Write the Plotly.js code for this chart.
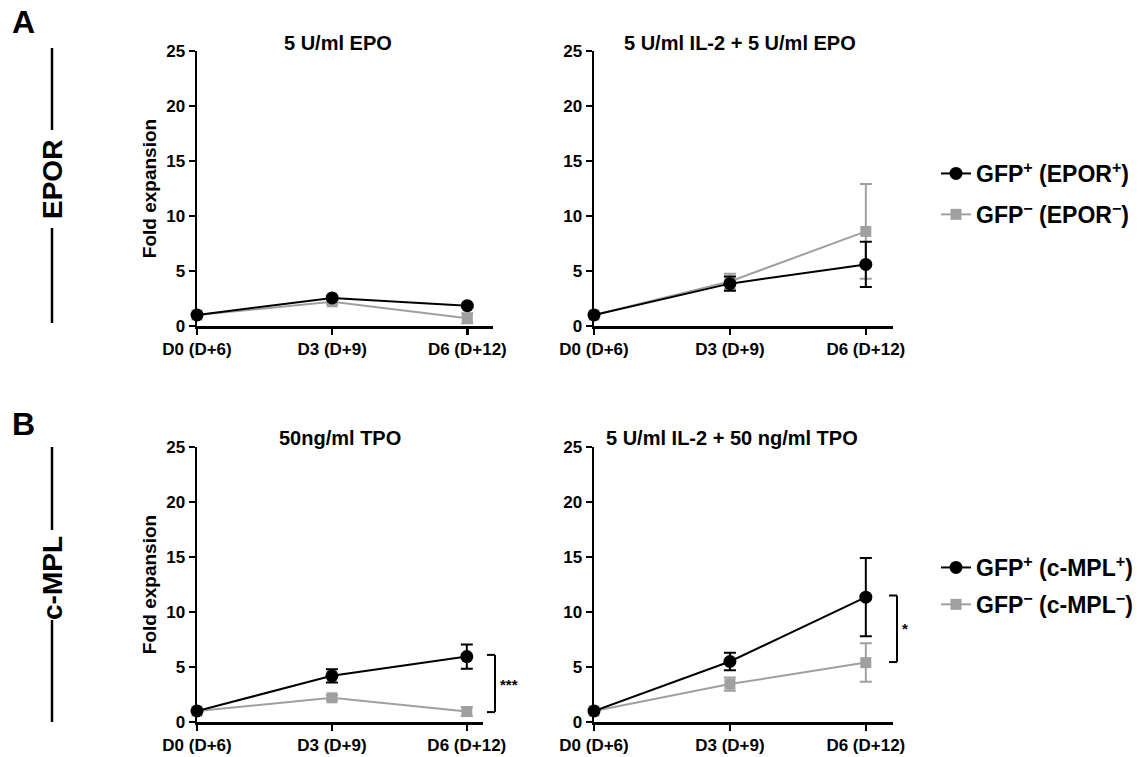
<!DOCTYPE html>
<html><head><meta charset="utf-8">
<script src="https://cdn.plot.ly/plotly-3.0.1.min.js"></script>
<style>html,body{margin:0;padding:0;background:#fff}#chart{width:1142px;height:757px}</style>
</head><body><div id="chart"></div>
<script>
// ---- data ----
const categories = ['D0 (D+6)', 'D3 (D+9)', 'D6 (D+12)'];
const panelTitles = ['5 U/ml EPO', '5 U/ml IL-2 + 5 U/ml EPO', '50ng/ml TPO', '5 U/ml IL-2 + 50 ng/ml TPO'];
const epoPos = [1.0, 2.55, 1.85];     const epoPosErr = [0.1, 0.15, 0.15];
const epoNeg = [1.0, 2.2, 0.7];       const epoNegErr = [0.1, 0.2, 0.45];
const il2EpoPos = [1.0, 3.85, 5.6];   const il2EpoPosErr = [0.1, 0.65, 2.05];
const il2EpoNeg = [1.0, 4.05, 8.6];   const il2EpoNegErr = [0.1, 0.7, 4.3];
const tpoPos = [1.0, 4.2, 5.95];      const tpoPosErr = [0.1, 0.6, 1.1];
const tpoNeg = [1.0, 2.2, 0.95];      const tpoNegErr = [0.1, 0.25, 0.4];
const il2TpoPos = [1.0, 5.5, 11.35];  const il2TpoPosErr = [0.1, 0.8, 3.55];
const il2TpoNeg = [1.0, 3.45, 5.4];   const il2TpoNegErr = [0.1, 0.6, 1.75];
const legendEpor = ['GFP<sup>+</sup> (EPOR<sup>+</sup>)', 'GFP<sup>−</sup> (EPOR<sup>−</sup>)'];
const legendMpl = ['GFP<sup>+</sup> (c-MPL<sup>+</sup>)', 'GFP<sup>−</sup> (c-MPL<sup>−</sup>)'];
const yTicks = [0, 5, 10, 15, 20, 25];

// ---- style ----
const W = 1142, H = 757;
const FONT = '"Liberation Sans", Arial, Helvetica, sans-serif';
const BLACK = '#000000', GRAY = '#a0a0a0';
const px = x => x / W, py = y => 1 - y / H;

function series(xa, ya, y, err, pos, name, showleg, legend, group) {
  return {
    type: 'scatter', mode: 'lines+markers', x: categories, y: y,
    xaxis: xa, yaxis: ya, name: name, showlegend: showleg, legend: legend, legendgroup: group,
    legendrank: pos ? 1 : 2,
    cliponaxis: false,
    line: {color: pos ? BLACK : GRAY, width: 2},
    marker: {color: pos ? BLACK : GRAY, size: pos ? 13 : 11, symbol: pos ? 'circle' : 'square'},
    error_y: {type: 'data', array: err, visible: true, color: pos ? BLACK : GRAY, thickness: 2, width: 6}
  };
}

const data = [
  series('x', 'y', epoNeg, epoNegErr, false, legendEpor[1], false, 'legend', 'n1'),
  series('x', 'y', epoPos, epoPosErr, true, legendEpor[0], false, 'legend', 'p1'),
  series('x2', 'y2', il2EpoNeg, il2EpoNegErr, false, legendEpor[1], true, 'legend', 'n1'),
  series('x2', 'y2', il2EpoPos, il2EpoPosErr, true, legendEpor[0], true, 'legend', 'p1'),
  series('x3', 'y3', tpoNeg, tpoNegErr, false, legendMpl[1], false, 'legend2', 'n2'),
  series('x3', 'y3', tpoPos, tpoPosErr, true, legendMpl[0], false, 'legend2', 'p2'),
  series('x4', 'y4', il2TpoNeg, il2TpoNegErr, false, legendMpl[1], true, 'legend2', 'n2'),
  series('x4', 'y4', il2TpoPos, il2TpoPosErr, true, legendMpl[0], true, 'legend2', 'p2')
];

function xax(d, r, anchor) {
  return {domain: d, range: r, anchor: anchor, type: 'category', showline: true, linewidth: 2.5, linecolor: BLACK,
    ticks: 'outside', ticklen: 6, tickwidth: 2.5, tickcolor: BLACK, showgrid: false, zeroline: false,
    tickfont: {family: FONT, size: 17, color: BLACK, weight: 700}, fixedrange: true};
}
function yax(d, anchor, title) {
  return {domain: d, range: [0, 25], anchor: anchor, tickvals: yTicks, showline: true, linewidth: 2.5, linecolor: BLACK,
    ticks: 'outside', ticklen: 6, tickwidth: 2.5, tickcolor: BLACK, showgrid: false, zeroline: false,
    tickfont: {family: FONT, size: 17, color: BLACK, weight: 700},
    title: {text: title, font: {family: FONT, size: 19, color: BLACK, weight: 700}, standoff: 5}, fixedrange: true};
}

const topY = [py(326), py(51)], botY = [py(722), py(447)];
const leftX = [px(197), px(493)], leftXb = [px(197), px(483)], rightX = [px(594), px(893)];

function title(t, x, y) {
  return {text: t, xref: 'paper', yref: 'paper', x: px(x), y: py(y), showarrow: false,
    xanchor: 'center', yanchor: 'middle', font: {family: FONT, size: 20, color: BLACK, weight: 700}};
}
function seg(x0, y0, x1, y1, xref, yref, w) {
  return {type: 'line', xref: xref, yref: yref, x0: x0, y0: y0, x1: x1, y1: y1, line: {color: BLACK, width: w || 2}};
}

const layout = {
  width: W, height: H, margin: {l: 0, r: 0, t: 0, b: 0},
  paper_bgcolor: '#ffffff', plot_bgcolor: '#ffffff',
  font: {family: FONT, color: BLACK},
  xaxis: xax(leftX, [0, 2.19], 'y'),
  yaxis: yax(topY, 'x', 'Fold expansion'),
  xaxis2: xax(rightX, [0, 2.2], 'y2'),
  yaxis2: yax(topY, 'x2', ''),
  xaxis3: xax(leftXb, [0, 2.12], 'y3'),
  yaxis3: yax(botY, 'x3', 'Fold expansion'),
  xaxis4: xax(rightX, [0, 2.2], 'y4'),
  yaxis4: yax(botY, 'x4', ''),
  legend: {x: px(936), y: py(152), xanchor: 'left', yanchor: 'top', traceorder: 'grouped', tracegroupgap: 8,
    font: {family: FONT, size: 23, color: BLACK, weight: 700}, bgcolor: 'rgba(0,0,0,0)', itemwidth: 30},
  legend2: {x: px(936), y: py(546), xanchor: 'left', yanchor: 'top', traceorder: 'grouped', tracegroupgap: 4,
    font: {family: FONT, size: 23, color: BLACK, weight: 700}, bgcolor: 'rgba(0,0,0,0)', itemwidth: 30},
  annotations: [
    title(panelTitles[0], 338, 43), title(panelTitles[1], 740, 43),
    title(panelTitles[2], 340, 438), title(panelTitles[3], 732, 438),
    {text: 'A', xref: 'paper', yref: 'paper', x: px(23), y: py(22), showarrow: false, xanchor: 'center', yanchor: 'middle',
      font: {family: FONT, size: 32, color: BLACK, weight: 700}},
    {text: 'B', xref: 'paper', yref: 'paper', x: px(23), y: py(424), showarrow: false, xanchor: 'center', yanchor: 'middle',
      font: {family: FONT, size: 32, color: BLACK, weight: 700}},
    {text: 'EPOR', textangle: -90, xref: 'paper', yref: 'paper', x: px(52), y: py(180), showarrow: false,
      xanchor: 'center', yanchor: 'middle', font: {family: FONT, size: 28, color: BLACK, weight: 700}},
    {text: 'c-MPL', textangle: -90, xref: 'paper', yref: 'paper', x: px(52), y: py(578), showarrow: false,
      xanchor: 'center', yanchor: 'middle', font: {family: FONT, size: 28, color: BLACK, weight: 700}},
    {text: '***', xref: 'paper', yref: 'y3', x: px(498), y: 3.4, showarrow: false, xanchor: 'left', yanchor: 'middle',
      font: {family: FONT, size: 15, color: BLACK, weight: 700}},
    {text: '*', xref: 'paper', yref: 'y4', x: px(900), y: 8.5, showarrow: false, xanchor: 'left', yanchor: 'middle',
      font: {family: FONT, size: 15, color: BLACK, weight: 700}}
  ],
  shapes: [
    seg(px(52), py(48), px(52), py(130), 'paper', 'paper', 2.5),
    seg(px(52), py(228), px(52), py(323), 'paper', 'paper', 2.5),
    seg(px(52), py(447), px(52), py(530), 'paper', 'paper', 2.5),
    seg(px(52), py(620), px(52), py(722), 'paper', 'paper', 2.5),
    // significance brackets
    seg(px(495), 6.1, px(495), 0.9, 'paper', 'y3'),
    seg(px(487), 6.1, px(495), 6.1, 'paper', 'y3'),
    seg(px(487), 0.9, px(495), 0.9, 'paper', 'y3'),
    seg(px(897), 11.5, px(897), 5.45, 'paper', 'y4'),
    seg(px(889), 11.5, px(897), 11.5, 'paper', 'y4'),
    seg(px(889), 5.45, px(897), 5.45, 'paper', 'y4')
  ]
};

Plotly.newPlot('chart', data, layout, {displayModeBar: false, staticPlot: true});
</script></body></html>
